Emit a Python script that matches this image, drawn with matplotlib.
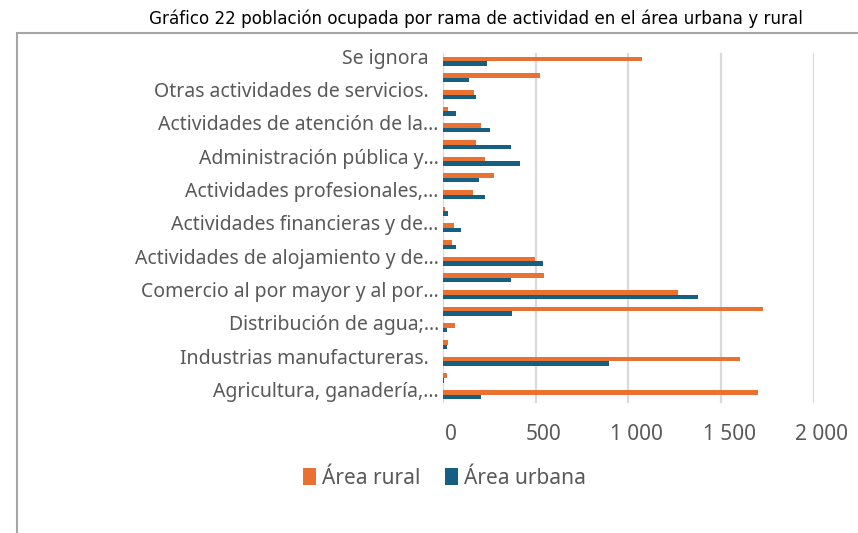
import numpy as np
import matplotlib
matplotlib.use("Agg")
import matplotlib.pyplot as plt
import matplotlib.transforms as mtransforms
from matplotlib.patches import Rectangle

# ramas de actividad, de abajo hacia arriba (orden del eje)
ramas = [
    "Agricultura, ganadería, caza, pesca y silvicultura",
    "Explotación de minas y canteras",
    "Industrias manufactureras.",
    "Suministro de electricidad, gas, vapor y aire acondicionado",
    "Distribución de agua; alcantarillado, gestión de desechos",
    "Construcción",
    "Comercio al por mayor y al por menor",
    "Transporte y almacenamiento",
    "Actividades de alojamiento y de servicio de comidas",
    "Información y comunicaciones",
    "Actividades financieras y de seguros",
    "Actividades inmobiliarias",
    "Actividades profesionales, científicas y técnicas",
    "Actividades de servicios administrativos y de apoyo",
    "Administración pública y defensa",
    "Servicios de educación",
    "Actividades de atención de la salud humana",
    "Actividades artísticas, de entretenimiento y recreativas",
    "Otras actividades de servicios.",
    "Actividades de los hogares privados",
    "Se ignora",
]

# etiquetas visibles (una de cada dos ramas)
etiquetas = [
    "Agricultura, ganadería,...",
    "Industrias manufactureras.  ",
    "Distribución de agua;...",
    "Comercio al por mayor y al por...",
    "Actividades de alojamiento y de...",
    "Actividades financieras y de...",
    "Actividades profesionales,...",
    "Administración pública y...",
    "Actividades de atención de la...",
    "Otras actividades de servicios.  ",
    "Se ignora  ",
]

area_rural = [1699, 22, 1600, 27, 65, 1724, 1268, 543, 496, 47, 59,
              9, 162, 275, 228, 178, 205, 27, 169, 525, 1075]
area_urbana = [207, 3, 894, 20, 20, 372, 1375, 365, 539, 70, 99,
               29, 225, 192, 415, 365, 254, 72, 180, 140, 237]

ticks_x = [0, 500, 1000, 1500, 2000]
ticks_x_txt = ["0", "500", "1 000", "1 500", "2 000"]

naranja = "#E97132"
azul = "#156082"
gris_txt = "#595959"

plt.rcParams["font.family"] = ["Noto Sans", "DejaVu Sans"]

fig = plt.figure(figsize=(8.58, 5.33), dpi=100)
ax = fig.add_axes([0.5163, 0.2439, 0.4324, 0.6567])

y = np.arange(len(ramas))
h = 0.27
ax.barh(y + h / 2, area_rural, height=h, color=naranja, label="Área rural", zorder=3)
ax.barh(y - h / 2, area_urbana, height=h, color=azul, label="Área urbana", zorder=3)

ax.set_xlim(0, 2000)
ax.set_ylim(-0.5, len(ramas) - 0.5)
ax.set_xticks(ticks_x)
ax.set_xticklabels(ticks_x_txt, fontsize=15, color=gris_txt)
ax.set_yticks(y[::2])
ax.set_yticklabels(etiquetas, fontsize=14, color=gris_txt)
ax.tick_params(axis="both", length=0)
ax.tick_params(axis="x", pad=15)
ax.tick_params(axis="y", pad=3)

# etiquetas del eje x algo corridas a la derecha, las del eje y algo más arriba
desp_x = mtransforms.ScaledTranslation(8 / 100, 0, fig.dpi_scale_trans)
for lbl in ax.get_xticklabels():
    lbl.set_transform(lbl.get_transform() + desp_x)
desp_y = mtransforms.ScaledTranslation(0, 5 / 100, fig.dpi_scale_trans)
for lbl in ax.get_yticklabels():
    lbl.set_transform(lbl.get_transform() + desp_y)

ax.grid(axis="x", color="#d9d9d9", linewidth=1.6, zorder=0)
for s in ax.spines.values():
    s.set_visible(False)

fig.legend(loc="center", bbox_to_anchor=(0.518, 0.103), ncol=2, frameon=False,
           fontsize=15, handlelength=0.6, handleheight=0.9, handletextpad=0.3,
           columnspacing=1.2, labelcolor=gris_txt)

fig.text(0.555, 0.964, "Gráfico 22 población ocupada por rama de actividad en el área urbana y rural",
         ha="center", va="center", fontsize=12.1,
         family=["Liberation Sans Narrow", "DejaVu Sans"], color="black")

# marco del área del gráfico
fig.add_artist(Rectangle((16.5 / 858, -0.2), 1.2, 0.2 + 1 - 32.7 / 533,
                         transform=fig.transFigure, fill=False,
                         edgecolor="#a6a6a6", linewidth=1.5))

fig.savefig("out.png", dpi=100)
